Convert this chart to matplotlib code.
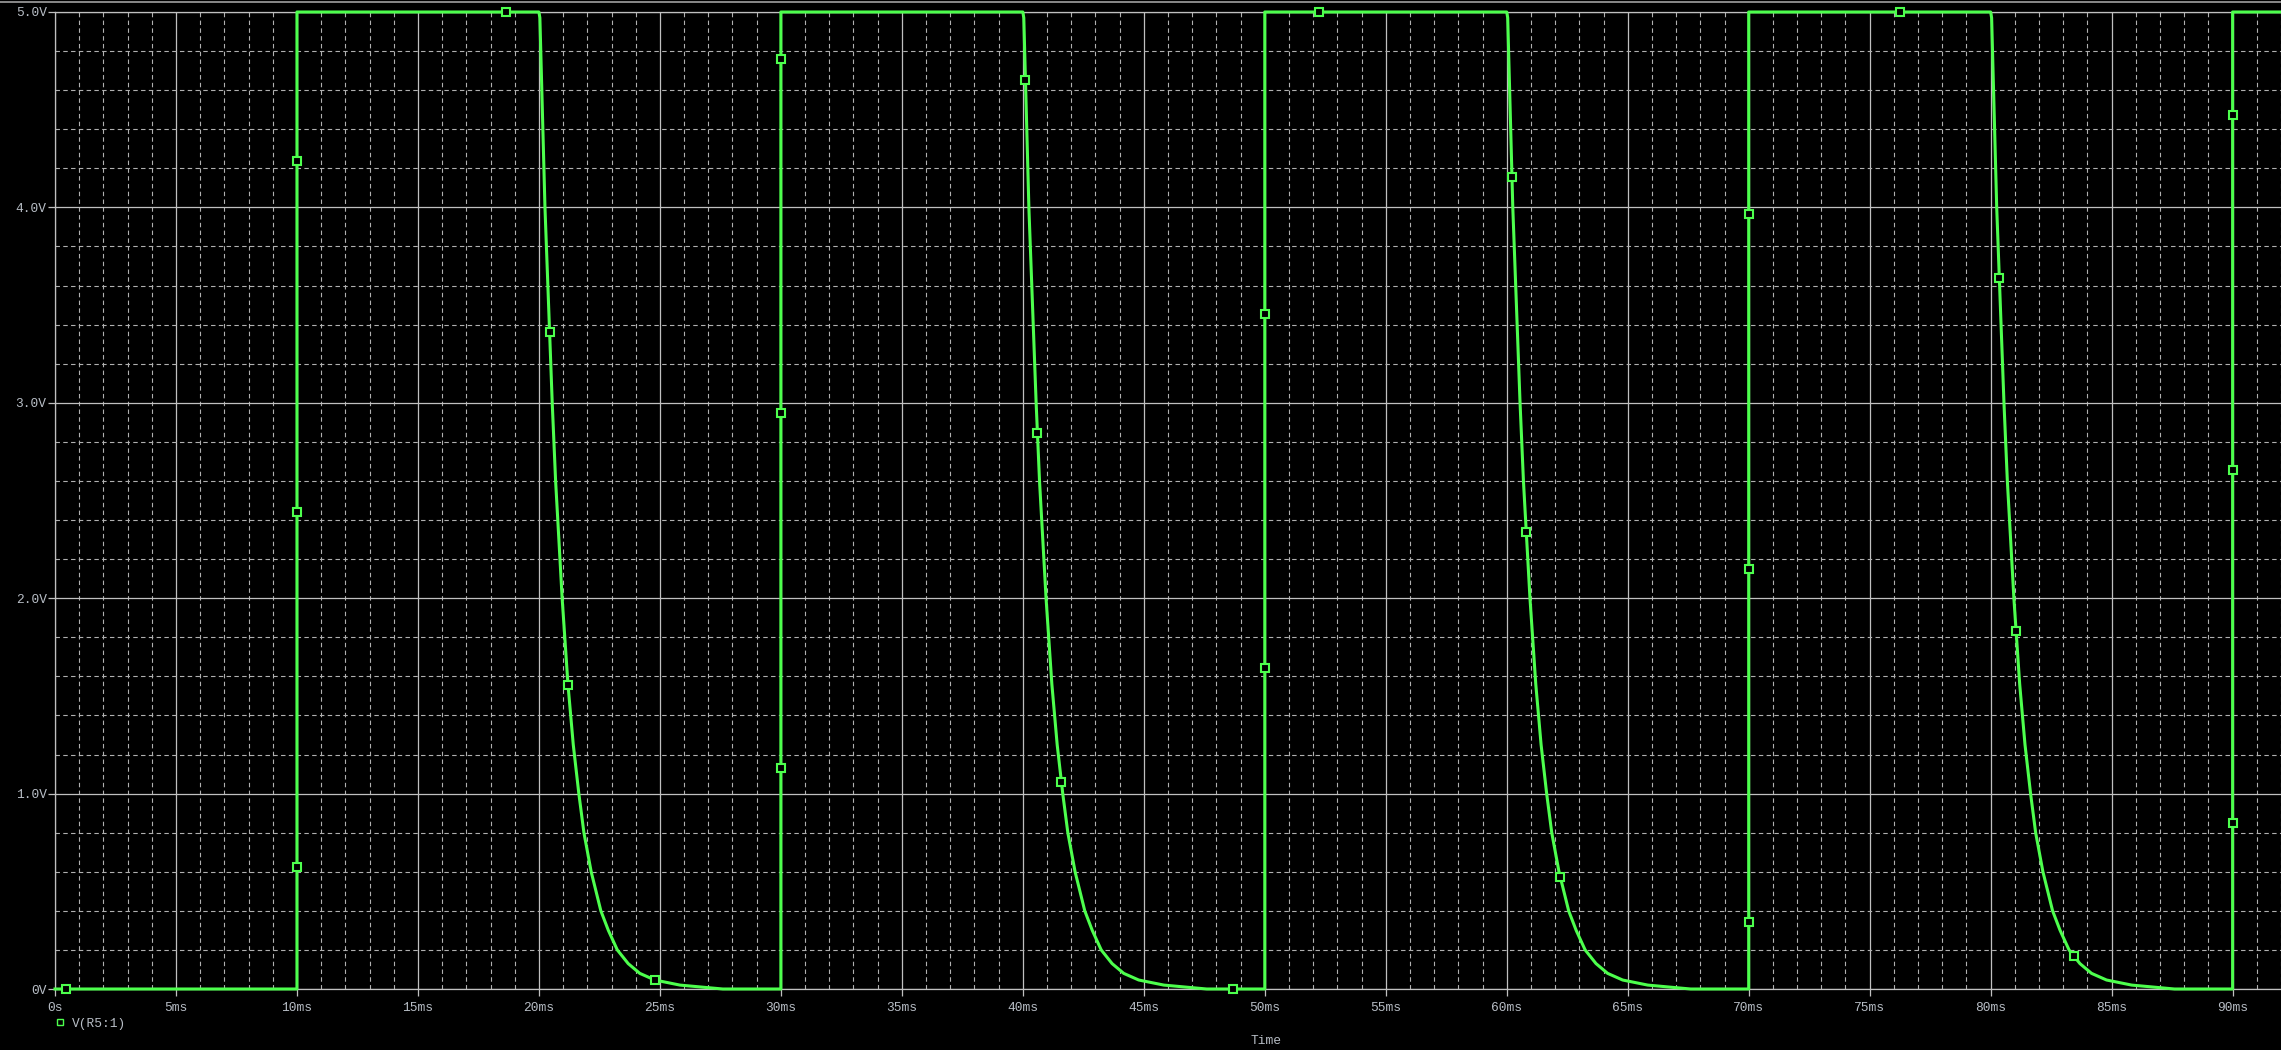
import numpy as np
import matplotlib.pyplot as plt
from matplotlib.lines import Line2D

# pulse edges (ms)
rise_ms = [10, 30, 50, 70, 90]
fall_ms = [20, 40, 60, 80]
end_ms = 92.0
v_high = 5.0
v_low = 0.0

# shape of one falling edge: time since the edge (ms) and voltage (V)
fall_dt = [0.00, 0.04, 0.25, 0.55, 0.69, 0.96, 1.20, 1.42, 1.65, 1.86, 2.16, 2.56, 2.87,
           3.24, 3.69, 4.17, 4.79, 5.83, 7.60]
fall_v = [5.00, 4.97, 4.00, 3.00, 2.60, 2.00, 1.56, 1.25, 1.00, 0.80, 0.60, 0.40, 0.30,
          0.20, 0.13, 0.08, 0.046, 0.02, 0.00]

# PSpice data-point markers (ms, V)
marker_t = [0.45, 10, 10, 10, 18.65, 20.44, 21.20, 24.81,
            30, 30, 30, 40.11, 40.60, 41.58, 48.68,
            50, 50, 52.24, 60.20, 60.78, 62.20,
            70, 70, 70, 76.27, 80.36, 81.05, 83.43,
            90, 90, 90]
marker_v = [0.0, 4.24, 2.44, 0.625, 5.0, 3.36, 1.556, 0.045,
            4.757, 2.947, 1.131, 4.653, 2.844, 1.057, 0.0,
            3.455, 1.645, 5.0, 4.154, 2.337, 0.573,
            3.966, 2.149, 0.342, 5.0, 3.64, 1.83, 0.17,
            4.473, 2.657, 0.848]

x_ticks = list(range(0, 91, 5))
x_labels = ['0s'] + [f'{t}ms' for t in x_ticks[1:]]
y_ticks = [0, 1, 2, 3, 4, 5]
y_labels = ['0V', '1.0V', '2.0V', '3.0V', '4.0V', '5.0V']
series_name = 'V(R5:1)'


def build_trace():
    """
    立ち上がり/立ち下がりの読み取り値から波形を組み立てる
    """
    t, v = [0.0], [v_low]
    for i, tr in enumerate(rise_ms):
        t += [tr, tr]
        v += [v_low, v_high]
        if i < len(fall_ms):
            tf = fall_ms[i]
            t += [tf + d for d in fall_dt]
            v += fall_v
    t.append(end_ms)
    v.append(v_high)
    return np.array(t), np.array(v)


green = '#4dff4d'
grid_c = '#c0c0c0'
text_c = '#b8bec6'
font = 'Liberation Mono'
W, H = 2281, 1050

fig = plt.figure(figsize=(W / 100, H / 100), dpi=100, facecolor='black')
ax = fig.add_axes([55 / W, 1 - 989 / H, 1 - 55 / W, (989 - 12) / H])
ax.set_facecolor('black')

t, v = build_trace()
ax.plot(t, v, color=green, lw=2.2, zorder=3, clip_on=False)
ax.plot(marker_t, marker_v, ls='none', marker='s', ms=5.5, mfc='black',
        mec=green, mew=1.5, zorder=4, clip_on=False)

ax.set_xlim(0, end_ms)
ax.set_ylim(0, 5)
ax.set_xticks(x_ticks)
ax.set_xticklabels(x_labels, family=font)
ax.set_yticks(y_ticks)
ax.set_yticklabels(y_labels, family=font)
ax.set_xticks(np.arange(0, end_ms + 0.01, 1), minor=True)
ax.set_yticks(np.arange(0, 5.01, 0.2), minor=True)

ax.set_axisbelow(True)
ax.grid(which='major', color=grid_c, lw=0.9)
ax.grid(which='minor', color='#b0b0b0', lw=0.8, linestyle=(0, (4, 3)))
ax.tick_params(which='major', length=5, width=0.9, color=grid_c,
               labelcolor=text_c, labelsize=9.3)
ax.tick_params(axis='x', which='major', pad=4.5)
ax.tick_params(axis='y', which='major', pad=1)
ax.tick_params(which='minor', length=0)
for side in ['left', 'bottom', 'top']:
    ax.spines[side].set_color(grid_c)
    ax.spines[side].set_linewidth(0.9)
ax.spines['right'].set_visible(False)

handle = Line2D([], [], ls='none', marker='s', ms=4.5, mfc='none', mec=green, mew=1)
leg = ax.legend([handle], [series_name], loc='center left',
                bbox_to_anchor=(55 / W, 1 - 1024 / H), bbox_transform=fig.transFigure,
                frameon=False, handlelength=0.8, handletextpad=0.5,
                borderpad=0, borderaxespad=0, prop={'family': font, 'size': 9.3})
for txt in leg.get_texts():
    txt.set_color(text_c)

fig.text(1266 / W, 1 - 1041 / H, 'Time', ha='center', va='center',
         color=text_c, family=font, fontsize=9.3)
fig.add_artist(Line2D([0, 1], [1 - 1.5 / H] * 2, transform=fig.transFigure,
                      color='#a0a0a0', lw=1.2))

fig.savefig('out.png', dpi=100, facecolor='black')
